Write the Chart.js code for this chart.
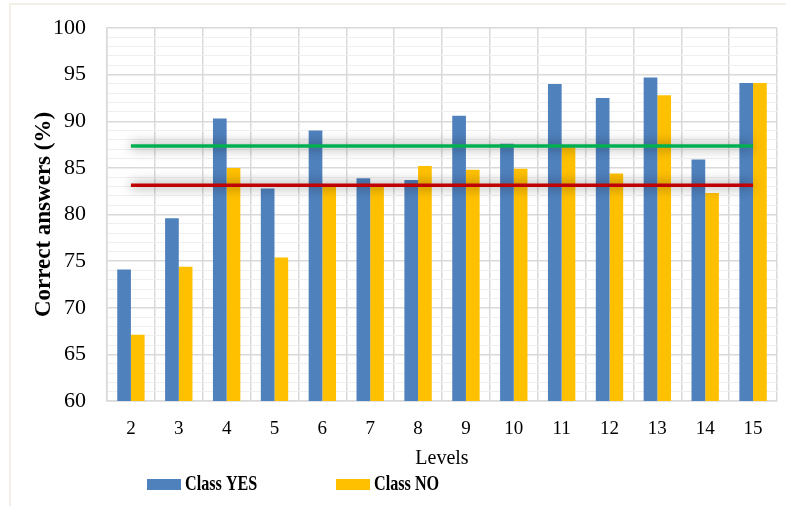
<!DOCTYPE html>
<html>
<head>
<meta charset="utf-8">
<title>Correct answers by level</title>
<script src="https://cdn.jsdelivr.net/npm/chart.js@4.4.1/dist/chart.umd.min.js"></script>
<style>
  body { margin: 0; background: #fff; }
  #wrap { position: relative; width: 786px; height: 506px; }
  #frame {
    position: absolute; left: 9px; top: 3px; right: 0; bottom: 0;
    border-top: 2px solid #f1efe6; border-left: 2px solid #f1efe6;
    pointer-events: none;
  }
</style>
</head>
<body>
<div id="wrap">
  <canvas id="levelsChart"></canvas>
  <div id="frame"></div>
</div>
<script>
// --- data ---
const levels = ['2', '3', '4', '5', '6', '7', '8', '9', '10', '11', '12', '13', '14', '15'];
const classYes = [74.1, 79.6, 90.3, 82.8, 89.0, 83.9, 83.7, 90.6, 87.6, 94.0, 92.5, 94.7, 85.9, 94.1];
const classNo = [67.1, 74.4, 85.0, 75.4, 83.0, 83.0, 85.2, 84.8, 84.9, 87.2, 84.4, 92.8, 82.3, 94.1];
const meanYes = 87.35;
const meanNo = 83.15;
const yTicksMajor = [60, 65, 70, 75, 80, 85, 90, 95, 100];

const serif = "'Liberation Serif', 'Times New Roman', serif";
const blue = '#4f81bd';
const gold = '#ffc000';

// grey glow behind the two mean lines
const lineGlow = {
  id: 'lineGlow',
  beforeDatasetDraw(chart, args) {
    if (args.meta.type !== 'line') return;
    const ctx = chart.ctx;
    ctx.save();
    ctx.shadowColor = 'rgba(0, 0, 0, 0.6)';
    ctx.shadowBlur = 12;
  },
  afterDatasetDraw(chart, args) {
    if (args.meta.type !== 'line') return;
    chart.ctx.restore();
  }
};

// legend under the axis title, drawn by hand so spacing matches
const bottomLegend = {
  id: 'bottomLegend',
  afterDraw(chart, args, opts) {
    const ctx = chart.ctx;
    ctx.save();
    ctx.font = 'bold 21px ' + serif;
    ctx.textBaseline = 'middle';
    chart.data.datasets.forEach((ds, i) => {
      if (ds.type === 'line') return;
      const x = opts.xs[i];
      ctx.fillStyle = ds.backgroundColor;
      ctx.fillRect(x, opts.y, 34, 11);
      ctx.save();
      ctx.translate(x + 38, opts.y + 6);
      ctx.scale(0.77, 1);
      ctx.fillStyle = '#000';
      ctx.fillText(ds.label, 0, 0);
      ctx.restore();
    });
    ctx.restore();
  }
};

const ctx = document.getElementById('levelsChart').getContext('2d');
new Chart(ctx, {
  type: 'bar',
  data: {
    labels: levels,
    datasets: [
      {
        label: 'Class YES',
        data: classYes,
        backgroundColor: blue,
        categoryPercentage: 0.572,
        barPercentage: 1,
        order: 2
      },
      {
        label: 'Class NO',
        data: classNo,
        backgroundColor: gold,
        categoryPercentage: 0.572,
        barPercentage: 1,
        order: 2
      },
      {
        type: 'line',
        label: 'Mean YES',
        data: levels.map(() => meanYes),
        borderColor: '#00b050',
        borderWidth: 3.5,
        pointRadius: 0,
        order: 1
      },
      {
        type: 'line',
        label: 'Mean NO',
        data: levels.map(() => meanNo),
        borderColor: '#c00000',
        borderWidth: 3.5,
        pointRadius: 0,
        order: 1
      }
    ]
  },
  options: {
    responsive: true,
    maintainAspectRatio: false,
    animation: false,
    layout: {
      padding: { left: 10, right: 9, top: 28, bottom: 37 }
    },
    plugins: {
      legend: { display: false },
      tooltip: { enabled: false },
      bottomLegend: { xs: [147, 336], y: 479 }
    },
    scales: {
      x: {
        grid: { color: '#d9d9d9', lineWidth: 1.5, drawTicks: false },
        border: { color: '#d9d9d9', width: 1.5 },
        ticks: {
          color: '#000',
          padding: 17,
          maxRotation: 0,
          autoSkip: false,
          font: { family: serif, size: 19 }
        },
        title: {
          display: true,
          text: 'Levels',
          color: '#000',
          padding: { top: 0, bottom: 0 },
          font: { family: serif, size: 20, lineHeight: 1 }
        },
        afterFit(scale) { scale.height = 68; }
      },
      y: {
        min: 60,
        max: 100,
        grid: {
          drawTicks: true,
          tickLength: 17,
          tickColor: 'rgba(0, 0, 0, 0)',
          color: c => yTicksMajor.includes(c.tick.value) ? '#d9d9d9' : '#efefef',
          lineWidth: c => yTicksMajor.includes(c.tick.value) ? 1.5 : 1
        },
        border: { color: '#d9d9d9', width: 1.5 },
        ticks: {
          stepSize: 1,
          autoSkip: false,
          color: '#000',
          padding: 4,
          font: { family: serif, size: 22 },
          callback: v => yTicksMajor.includes(v) ? v : ''
        },
        title: {
          display: true,
          text: 'Correct answers (%)',
          color: '#000',
          padding: { top: 23, bottom: 0 },
          font: { family: serif, size: 23, weight: 'bold', lineHeight: 1 }
        },
        afterFit(scale) { scale.width = 97; }
      }
    }
  },
  plugins: [lineGlow, bottomLegend]
});
</script>
</body>
</html>
